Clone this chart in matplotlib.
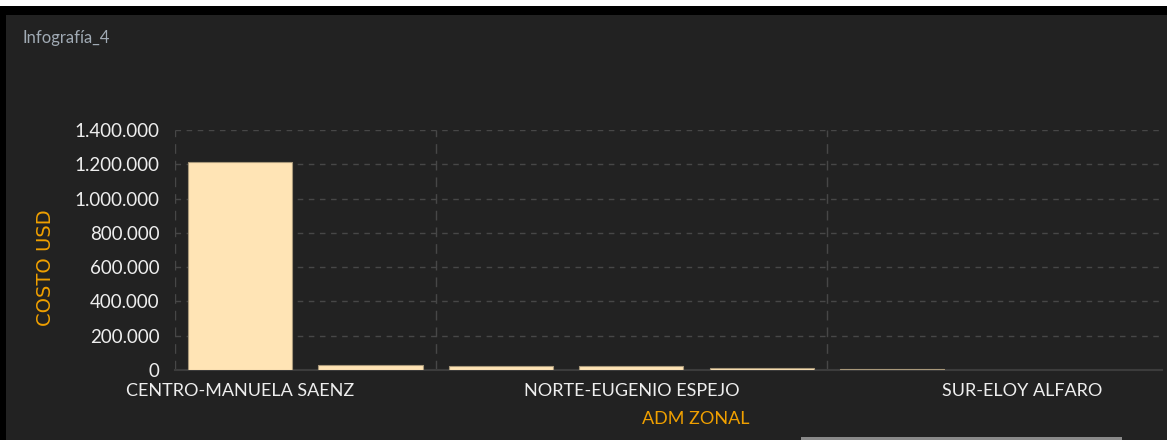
import matplotlib.pyplot as plt
from matplotlib.patches import Rectangle
from matplotlib.ticker import FuncFormatter

# Datos (costo en USD por administracion zonal)
bar_values = [1215000, 29000, 25000, 21000, 10000, 6000]
tick_positions = [0, 3, 6]
tick_labels = ["CENTRO-MANUELA SAENZ", "NORTE-EUGENIO ESPEJO", "SUR-ELOY ALFARO"]
y_ticks = [0, 200000, 400000, 600000, 800000, 1000000, 1200000, 1400000]

bg = "#222222"
narrow = ["Lato", "DejaVu Sans"]

W, H = 1167, 440
fig = plt.figure(figsize=(W / 100, H / 100), dpi=100, facecolor=bg)

# marco de la captura
fig.patches.append(Rectangle((0, 1 - 6 / H), 1, 6 / H, transform=fig.transFigure,
                             facecolor="white", edgecolor="none", zorder=0))
fig.patches.append(Rectangle((0, 1 - 15 / H), 1, 9 / H, transform=fig.transFigure,
                             facecolor="black", edgecolor="none", zorder=0))
fig.patches.append(Rectangle((0, 0), 6 / W, 1 - 6 / H, transform=fig.transFigure,
                             facecolor="black", edgecolor="none", zorder=0))
fig.patches.append(Rectangle((801 / W, 0), 321 / W, 3 / H, transform=fig.transFigure,
                             facecolor="#8a8a8a", edgecolor="none", zorder=0))

ax = fig.add_axes([175 / W, 1 - 370 / H, (1162 - 175) / W, 240 / H])
ax.set_facecolor(bg)

x = list(range(len(bar_values)))
ax.bar(x, bar_values, width=0.8, color="#FFE4B5", edgecolor="#a8987a",
       linewidth=0.8, zorder=3)

ax.set_ylim(0, 1400000)
ax.set_yticks(y_ticks)
ax.yaxis.set_major_formatter(FuncFormatter(lambda v, p: f"{int(v):,}".replace(",", ".")))
ax.set_xticks(tick_positions)
ax.set_xticklabels(tick_labels)

# rejilla
for yv in y_ticks[1:]:
    ax.axhline(yv, color="#474747", linestyle=(0, (4, 4)), linewidth=1, zorder=1)
for xv in [-0.5, 1.5, 4.5]:
    ax.axvline(xv, color="#474747", linestyle=(0, (7, 5)), linewidth=1, zorder=1)

for s in ["top", "right", "left"]:
    ax.spines[s].set_visible(False)
ax.spines["bottom"].set_color("#3c3c3c")
ax.spines["bottom"].set_linewidth(1.5)
ax.set_xlim(-0.5, 7.07)

ax.tick_params(length=0, colors="#eeeeee")
ax.tick_params(axis="y", pad=11)
ax.tick_params(axis="x", pad=9)
for lab in ax.get_yticklabels():
    lab.set_family(narrow)
    lab.set_fontsize(13.5)
for lab in ax.get_xticklabels():
    lab.set_family(narrow)
    lab.set_fontsize(13)

ax.set_xlabel("ADM ZONAL", color="#f0a000", fontsize=13, family=narrow)
ax.xaxis.set_label_coords((696 - 175) / (1162 - 175), -(411 - 370) / 240)
ax.set_ylabel("COSTO USD", color="#f0a000", fontsize=14)
ax.yaxis.set_label_coords((55 - 175) / (1162 - 175), (370 - 268) / 240)

fig.text(22 / W, 1 - 38 / H, "Infografía_4", color="#a0aab4", fontsize=12,
         family=narrow, va="center", ha="left")

plt.savefig("out.png", dpi=100, facecolor=bg)
